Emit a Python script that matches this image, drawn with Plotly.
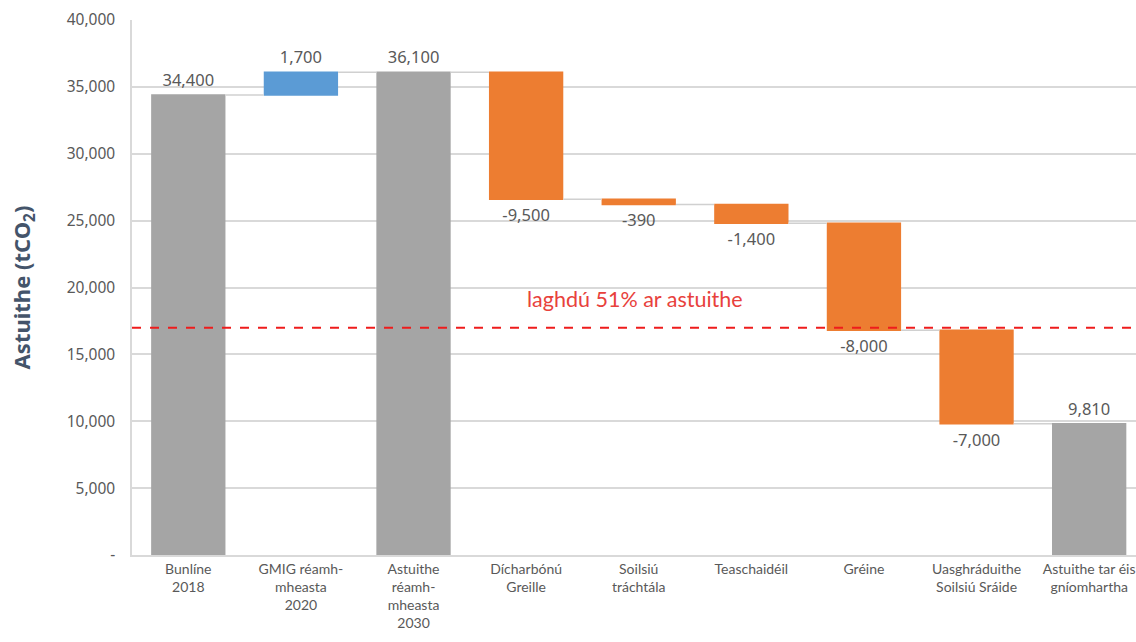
import plotly.graph_objects as go

# Emission steps (tCO2)
categories = [
    "Bunlíne<br>2018",
    "GMIG réamh-<br>mheasta<br>2020",
    "Astuithe<br>réamh-<br>mheasta<br>2030",
    "Dícharbónú<br>Greille",
    "Soilsiú<br>tráchtála",
    "Teaschaidéil",
    "Gréine",
    "Uasghráduithe<br>Soilsiú Sráide",
    "Astuithe tar éis<br>gníomhartha",
]
measures = ["absolute", "relative", "total", "relative", "relative",
            "relative", "relative", "relative", "total"]
values = [34400, 1700, 0, -9500, -390, -1400, -8000, -7000, 0]
labels = ["34,400", "1,700", "36,100", "-9,500", "-390", "-1,400",
          "-8,000", "-7,000", "9,810"]

target_line = 17000
target_text = "laghdú 51% ar astuithe"

ytick_vals = [0, 5000, 10000, 15000, 20000, 25000, 30000, 35000, 40000]
ytick_text = ["-", "5,000", "10,000", "15,000", "20,000", "25,000",
              "30,000", "35,000", "40,000"]

fig = go.Figure()
fig.add_trace(go.Waterfall(
    x=list(range(len(categories))),
    measure=measures,
    y=values,
    text=labels,
    textposition="outside",
    textfont=dict(family="Noto Sans", size=16.5, color="#595959"),
    cliponaxis=False,
    width=0.66,
    increasing=dict(marker=dict(color="#5b9bd5")),
    decreasing=dict(marker=dict(color="#ed7d31")),
    totals=dict(marker=dict(color="#a5a5a5")),
    connector=dict(line=dict(color="#d0d0d0", width=1.5), mode="between"),
    showlegend=False,
))

fig.add_shape(type="line", xref="paper", yref="y", x0=0, x1=1,
              y0=target_line, y1=target_line,
              line=dict(color="#ee1c1c", width=2, dash="dash"), layer="above")
fig.add_annotation(x=3.97, y=19150, xref="x", yref="y", text=target_text,
                   showarrow=False,
                   font=dict(family="Lato", size=21.5, color="#e8413c"))

fig.update_layout(
    width=1136, height=642,
    margin=dict(l=132, r=0, t=20, b=87),
    paper_bgcolor="white", plot_bgcolor="white",
    font=dict(family="Noto Sans", color="#595959"),
    xaxis=dict(
        tickvals=list(range(len(categories))), ticktext=categories,
        range=[-0.5, 8.416], showgrid=False, ticks="",
        showline=True, linecolor="#d9d9d9", linewidth=1.5,
        tickfont=dict(family="Lato", size=14, color="#595959"),
    ),
    yaxis=dict(
        range=[0, 40000], tickvals=ytick_vals, ticktext=ytick_text,
        showgrid=True, gridcolor="#d9d9d9", gridwidth=1.5,
        showline=True, linecolor="#d9d9d9", linewidth=1.5,
        ticks="", ticklabelstandoff=12,
        tickfont=dict(family="Noto Sans", size=15.5, color="#595959"),
        title=dict(text="<b>Astuithe (tCO<sub>2</sub>)</b>", standoff=30,
                   font=dict(family="Noto Sans", size=22, color="#44546a")),
        zeroline=False,
    ),
)

fig.write_html("out.html")
